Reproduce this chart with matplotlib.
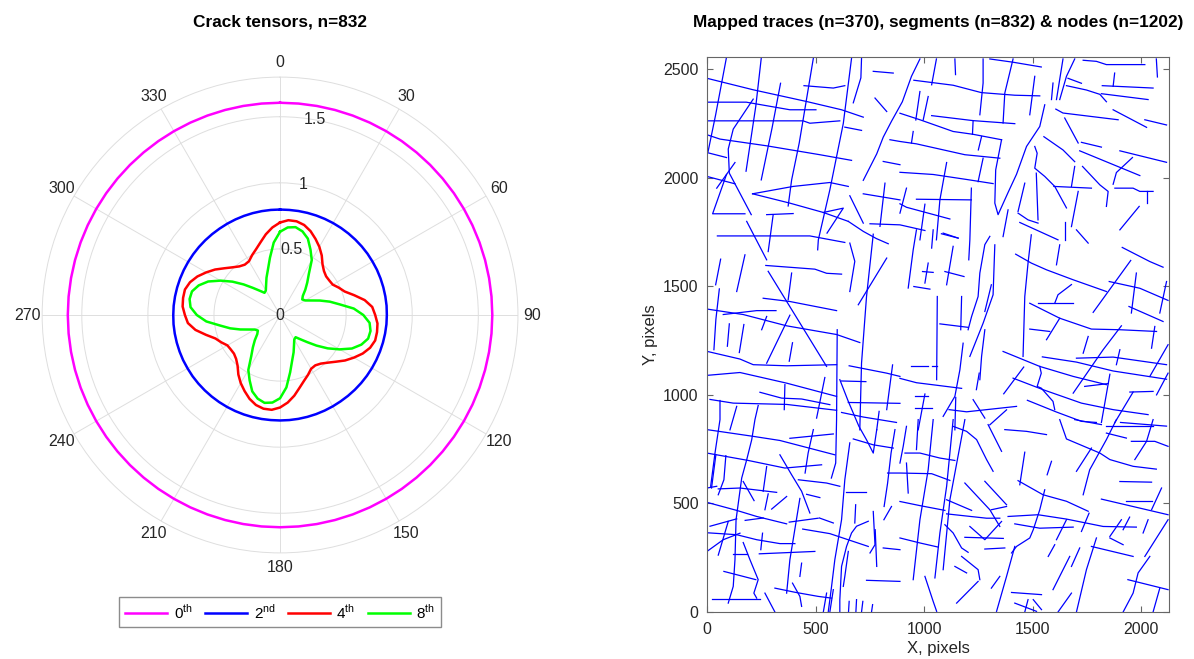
import matplotlib.pyplot as plt
import numpy as np

# --- CONFIGURATION ---
FONT = ['Liberation Sans', 'DejaVu Sans']
plt.rcParams['font.family'] = FONT
plt.rcParams['mathtext.fontset'] = 'custom'
plt.rcParams['mathtext.rm'] = 'Liberation Sans'
plt.rcParams['font.size'] = 11.5
TXT = '#262626'

# --- 1. CRACK TENSOR DATA (radius every 5 deg, 0..175; tensors are centrosymmetric) ---
theta_half = np.arange(0, 180, 5)
r_0th = 1.606
r_2nd_half = [0.798, 0.798, 0.799, 0.800, 0.801, 0.802, 0.803, 0.804, 0.805,
              0.806, 0.807, 0.808, 0.808, 0.809, 0.809, 0.809, 0.809, 0.809,
              0.808, 0.808, 0.807, 0.806, 0.805, 0.804, 0.803, 0.802, 0.801,
              0.800, 0.799, 0.798, 0.798, 0.798, 0.798, 0.798, 0.798, 0.798]
r_4th_half = [0.700, 0.720, 0.720, 0.705, 0.675, 0.635, 0.595, 0.550, 0.500,
              0.470, 0.455, 0.455, 0.460, 0.490, 0.520, 0.580, 0.650, 0.700,
              0.720, 0.740, 0.745, 0.745, 0.725, 0.690, 0.645, 0.600, 0.550,
              0.510, 0.480, 0.465, 0.470, 0.500, 0.530, 0.570, 0.620, 0.665]
r_8th_half = [0.630, 0.665, 0.675, 0.655, 0.615, 0.545, 0.480, 0.380, 0.320,
              0.270, 0.225, 0.205, 0.220, 0.260, 0.320, 0.390, 0.460, 0.560,
              0.630, 0.680, 0.695, 0.690, 0.655, 0.600, 0.520, 0.440, 0.360,
              0.290, 0.240, 0.205, 0.215, 0.250, 0.300, 0.355, 0.440, 0.550]
tensor_labels = ['0$^{\\rm th}$', '2$^{\\rm nd}$', '4$^{\\rm th}$', '8$^{\\rm th}$']
tensor_colors = ['#ff00ff', '#0000ff', '#ff0000', '#00ff00']
r_ticks = [0, 0.5, 1, 1.5]
r_tick_labels = ['0', '0.5', '1', '1.5']

# --- 2. TRACE MAP DATA (polylines in pixel coordinates of the mapped image) ---
traces_top = [
    [(90, 2555), (40, 2290), (5, 2120)],
    [(250, 2550), (225, 2330), (180, 2030)],
    [(490, 2550), (425, 2160), (390, 1990), (374, 1870)],
    [(666, 2550), (628, 2250), (566, 1944), (513, 1714), (510, 1668)],
    [(712, 2550), (709, 2460), (674, 2345)],
    [(0, 2458), (213, 2405), (459, 2351), (620, 2313), (720, 2279)],
    [(0, 2348), (181, 2348), (382, 2313), (502, 2313)],
    [(0, 2262), (443, 2262), (474, 2251), (612, 2262)],
    [(635, 2233), (712, 2218)],
    [(0, 2198), (60, 2178), (275, 2147), (520, 2106), (666, 2080)],
    [(0, 2116), (90, 2093)],
    [(0, 2006), (129, 1972)],
    [(129, 2070), (45, 1952)],
    [(213, 2362), (121, 2224), (98, 2132), (103, 2021), (204, 1830)],
    [(90, 2015), (26, 1834), (175, 1834)],
    [(339, 2435), (300, 2230), (250, 1990)],
    [(447, 2424), (582, 2413), (635, 2424)],
    [(210, 1926), (397, 1960), (566, 1978), (651, 1960)],
    [(210, 1926), (382, 1883), (536, 1840), (651, 1799)],
    [(275, 1830), (397, 1835)],
    [(305, 1830), (282, 1660)],
    [(536, 1840), (628, 1860), (553, 1745)],
    [(658, 1917), (720, 1791)],
    [(651, 1799), (720, 1753), (780, 1720), (835, 1696)],
    [(48, 1732), (474, 1732), (635, 1702)],
    [(183, 1799), (275, 1622)],
    [(766, 2490), (858, 2482)],
    [(774, 2367), (828, 2305)],
    [(981, 2547), (942, 2467), (900, 2350), (850, 2260), (812, 2187), (782, 2110), (720, 1988)],
    [(720, 1926), (889, 1898)],
    [(843, 2175), (889, 2167), (965, 2156), (1188, 2106), (1349, 2090)],
    [(812, 2075), (889, 2060)],
    [(820, 1975), (797, 1776)],
    [(751, 1788), (889, 1783), (1004, 1757)],
    [(1057, 2547), (1035, 2428)],
    [(1019, 2374), (996, 2266)],
    [(981, 2397), (962, 2266)],
    [(1142, 2547), (1145, 2475)],
    [(1272, 2547), (1272, 2436), (1257, 2290)],
    [(1303, 2547), (1410, 2532), (1540, 2510)],
    [(1410, 2547), (1372, 2390), (1364, 2252)],
    [(953, 2449), (1134, 2426), (1264, 2392), (1418, 2380), (1533, 2377)],
    [(1510, 2467), (1487, 2290)],
    [(889, 2297), (981, 2267), (1134, 2213), (1226, 2200), (1357, 2175)],
    [(1035, 2286), (1226, 2263), (1418, 2249)],
    [(1226, 2263), (1223, 2200)],
    [(889, 2025), (1042, 2015), (1196, 1992), (1318, 1973)],
    [(950, 2213), (942, 2160)],
    [(1265, 2190), (1250, 2128)],
    [(1272, 2090), (1249, 1982)],
    [(1104, 2070), (1073, 1898), (1057, 1714)],
    [(965, 1901), (1218, 1898)],
    [(889, 1880), (919, 1864), (1119, 1810)],
    [(1004, 1878), (981, 1714)],
    [(919, 1952), (889, 1837)],
    [(1218, 1952), (1211, 1714), (1206, 1622)],
    [(1088, 1745), (1157, 1722)],
    [(1357, 2175), (1330, 2036), (1326, 1883), (1341, 1830), (1387, 1932),
     (1426, 2016), (1472, 2144), (1533, 2236), (1556, 2336)],
    [(1594, 2436), (1587, 2360)],
    [(1640, 2547), (1610, 2360)],
    [(1694, 2547), (1656, 2467), (1625, 2360)],
    [(1733, 2541), (1794, 2536), (1840, 2521), (2017, 2521)],
    [(2070, 2547), (2075, 2464)],
    [(1663, 2458), (1725, 2435)],
    [(1656, 2424), (1748, 2404), (1810, 2384), (1840, 2350)],
    [(1878, 2482), (1871, 2421)],
    [(1821, 2424), (2055, 2413)],
    [(1817, 2387), (2032, 2360)],
    [(1607, 2316), (1640, 2298), (1894, 2267)],
    [(1871, 2313), (2025, 2232)],
    [(2017, 2267), (2117, 2243)],
    [(1648, 2275), (1710, 2160)],
    [(1725, 2163), (1817, 2141)],
    [(1552, 2189), (1640, 2128), (1694, 2074)],
    [(1717, 2124), (1994, 2010)],
    [(1902, 2124), (2117, 2071)],
    [(1960, 2093), (1886, 2024), (1871, 1970)],
    [(1510, 2144), (1521, 2113), (1510, 2044), (1556, 2006), (1602, 1960), (1656, 1861)],
    [(1730, 2052), (1810, 1967), (1848, 1937), (1840, 1868)],
    [(1694, 2052), (1679, 1960)],
    [(1598, 1960), (1771, 1952)],
    [(1879, 1952), (1963, 1952), (1994, 1937), (2055, 1937)],
    [(2025, 1937), (2025, 1883)],
    [(1710, 1937), (1679, 1775)],
    [(1517, 2021), (1525, 1806)],
    [(1464, 1975), (1433, 1845)],
    [(1433, 1837), (1479, 1806), (1525, 1791)],
    [(1441, 1794), (1617, 1714)],
    [(1648, 1794), (1648, 1714)],
    [(1991, 1868), (1902, 1760)],
    [(1387, 1852), (1364, 1729)],
]

traces_mid = [
    [(658, 1699), (681, 1615), (658, 1476)],
    [(766, 1740), (735, 1453), (712, 1146), (704, 839)],
    [(828, 1630), (697, 1415)],
    [(271, 1596), (497, 1579), (551, 1560), (620, 1556)],
    [(63, 1625), (40, 1507)],
    [(175, 1645), (137, 1476)],
    [(57, 1488), (41, 1347), (32, 1208)],
    [(390, 1561), (374, 1438)],
    [(282, 1569), (551, 1131)],
    [(259, 1445), (382, 1430), (597, 1388)],
    [(75, 1370), (229, 1388), (318, 1388)],
    [(275, 1361), (252, 1300)],
    [(382, 1367), (275, 1146)],
    [(394, 1240), (379, 1155)],
    [(2, 1395), (167, 1370), (367, 1318), (597, 1278), (704, 1241)],
    [(103, 1327), (94, 1224)],
    [(170, 1324), (149, 1195)],
    [(2, 1200), (152, 1165), (213, 1139), (367, 1134), (597, 1139)],
    [(2, 1090), (152, 1103), (367, 1054), (597, 993)],
    [(244, 1012), (344, 985), (436, 981), (566, 955)],
    [(359, 1047), (356, 932)],
    [(14, 979), (121, 962), (367, 956), (597, 929)],
    [(60, 974), (60, 886), (37, 732), (17, 579)],
    [(137, 947), (106, 839)],
    [(236, 951), (221, 886), (206, 793), (183, 701), (160, 617), (134, 425),
     (129, 241), (121, 118), (98, 41)],
    [(543, 1080), (505, 893)],
    [(600, 1300), (597, 886), (593, 686), (573, 617)],
    [(612, 1070), (651, 970), (674, 916), (700, 855), (735, 793), (766, 732), (782, 840)],
    [(655, 1134), (828, 1100), (889, 1085)],
    [(620, 1064), (732, 1061)],
    [(651, 965), (889, 961)],
    [(620, 919), (720, 898), (873, 873)],
    [(855, 1138), (828, 932)],
    [(793, 924), (782, 839)],
    [(965, 1760), (950, 1668), (927, 1492)],
    [(1042, 1760), (1035, 1676)],
    [(1080, 1742), (1157, 1722)],
    [(1134, 1684), (1104, 1507)],
    [(1096, 1568), (1184, 1545)],
    [(993, 1568), (1042, 1564)],
    [(1019, 1607), (1004, 1515)],
    [(953, 1499), (1027, 1487)],
    [(1303, 1730), (1280, 1692), (1257, 1561), (1249, 1453), (1219, 1361), (1203, 1300)],
    [(1326, 1691), (1318, 1461), (1272, 1330), (1211, 1177)],
    [(1310, 1507), (1280, 1384)],
    [(1173, 1453), (1169, 1300)],
    [(1073, 1327), (1203, 1311)],
    [(1061, 1453), (1058, 1070)],
    [(1280, 1300), (1265, 1177), (1257, 1070)],
    [(1180, 1238), (1165, 1115), (1142, 993), (1088, 901)],
    [(1254, 1100), (1241, 1024)],
    [(889, 1076), (965, 1056), (1173, 1030)],
    [(938, 1134), (1019, 1134)],
    [(1035, 1134), (1061, 1134)],
    [(958, 995), (1019, 995)],
    [(958, 938), (1035, 938)],
    [(1004, 1004), (973, 839)],
    [(1115, 932), (1196, 922), (1426, 947)],
    [(1146, 988), (1142, 839)],
    [(1226, 978), (1280, 893)],
    [(1380, 931), (1303, 862)],
    [(1494, 1737), (1479, 1607), (1464, 1453), (1456, 1177)],
    [(1702, 1760), (1756, 1699)],
    [(1625, 1691), (1610, 1599)],
    [(1422, 1648), (1494, 1607), (1564, 1576), (1687, 1530), (1840, 1476)],
    [(1913, 1679), (2040, 1614), (2101, 1588)],
    [(1952, 1619), (1779, 1380)],
    [(1978, 1561), (1955, 1377)],
    [(1853, 1522), (1994, 1491), (2124, 1435)],
    [(2117, 1522), (2086, 1377)],
    [(1944, 1407), (2101, 1338)],
    [(1679, 1508), (1617, 1461), (1602, 1422)],
    [(1525, 1422), (1687, 1422)],
    [(1487, 1422), (1625, 1353), (1771, 1303), (1902, 1300), (2071, 1292)],
    [(1487, 1303), (1579, 1292)],
    [(1625, 1353), (1564, 1254)],
    [(1756, 1269), (1733, 1192)],
    [(1909, 1318), (1825, 1208), (1687, 1008)],
    [(2063, 1315), (2048, 1215)],
    [(1364, 1200), (1533, 1131), (1687, 1085), (1840, 1047)],
    [(1410, 1077), (1548, 1024), (1725, 962), (1871, 932), (2032, 909)],
    [(1545, 1175), (1702, 1151), (1871, 1110), (2117, 1072)],
    [(1702, 1169), (1871, 1174), (2117, 1139)],
    [(1902, 1208), (1886, 1139)],
    [(2124, 1231), (2040, 1085)],
    [(2124, 1100), (2071, 1000)],
    [(1740, 1039), (1848, 1052)],
    [(1856, 1095), (1817, 873)],
    [(1963, 1013), (1879, 873)],
    [(1948, 1013), (2055, 1016)],
    [(1533, 1131), (1540, 1100), (1521, 1039), (1540, 1031), (1594, 970), (1602, 932)],
    [(1459, 1128), (1367, 1005)],
    [(1476, 975), (1610, 921), (1725, 878), (1794, 873)],
    [(1905, 873), (2117, 856)],
]

traces_bottom = [
    [(0, 840), (213, 809), (336, 790), (589, 724)],
    [(382, 800), (582, 820)],
    [(490, 840), (466, 732), (452, 640)],
    [(0, 732), (190, 698), (359, 663), (528, 678)],
    [(87, 720), (78, 609), (52, 540)],
    [(41, 724), (21, 571)],
    [(275, 670), (259, 556)],
    [(336, 724), (390, 632), (436, 556), (474, 456)],
    [(421, 609), (551, 594), (612, 579)],
    [(640, 552), (733, 552)],
    [(658, 779), (635, 609), (620, 425), (589, 241), (574, 118), (559, 3)],
    [(674, 797), (766, 770), (858, 755)],
    [(866, 840), (848, 732), (832, 593), (816, 486)],
    [(832, 640), (889, 640), (1035, 637), (1119, 606)],
    [(0, 571), (45, 579)],
    [(52, 567), (152, 571), (321, 551)],
    [(167, 601), (217, 513)],
    [(367, 532), (298, 474)],
    [(282, 544), (267, 471)],
    [(0, 505), (137, 468), (229, 440), (367, 406)],
    [(14, 395), (137, 429)],
    [(0, 365), (137, 356), (229, 333), (336, 315), (405, 315)],
    [(0, 279), (75, 333), (152, 363)],
    [(98, 417), (52, 262)],
    [(176, 422), (259, 433)],
    [(379, 414), (512, 432)],
    [(428, 523), (412, 425), (382, 241), (367, 87)],
    [(459, 542), (520, 527)],
    [(518, 433), (582, 410)],
    [(441, 382), (566, 361), (674, 325), (743, 302)],
    [(256, 363), (248, 287)],
    [(241, 268), (497, 279)],
    [(118, 268), (183, 268)],
    [(167, 320), (198, 241), (236, 149), (216, 87), (229, 64)],
    [(78, 187), (225, 149)],
    [(21, 61), (242, 61)],
    [(267, 87), (313, 0)],
    [(313, 110), (405, 91), (512, 72), (574, 64)],
    [(394, 133), (428, 72), (436, 26)],
    [(436, 225), (428, 164)],
    [(551, 87), (536, 0)],
    [(582, 103), (566, 0)],
    [(743, 418), (689, 395), (666, 364), (643, 302), (620, 210), (612, 56), (612, 0)],
    [(651, 279), (635, 164), (628, 118)],
    [(685, 494), (681, 410)],
    [(766, 463), (774, 310), (751, 272)],
    [(775, 379), (782, 210)],
    [(815, 425), (850, 486)],
    [(735, 146), (889, 141)],
    [(812, 295), (889, 287)],
    [(655, 49), (652, 0)],
    [(689, 57), (686, 0)],
    [(718, 49), (712, 0)],
    [(763, 34), (758, 0)],
    [(919, 855), (904, 763), (889, 686)],
    [(973, 886), (965, 748)],
    [(1042, 886), (1019, 655), (981, 425), (950, 149)],
    [(1134, 886), (1104, 579), (1073, 364), (1050, 157)],
    [(1188, 886), (1119, 517), (1088, 195)],
    [(912, 732), (981, 732), (1073, 709), (1142, 698)],
    [(919, 686), (927, 548)],
    [(889, 509), (981, 490), (1096, 468)],
    [(889, 341), (981, 318), (1065, 299)],
    [(1004, 164), (1042, 49), (1058, 3)],
    [(1134, 855), (1196, 832), (1242, 794), (1288, 702), (1318, 648)],
    [(1295, 863), (1357, 740)],
    [(1372, 840), (1472, 832), (1564, 817)],
    [(1625, 886), (1656, 797), (1810, 732), (1856, 702), (1963, 671), (2070, 658)],
    [(1694, 886), (1817, 863)],
    [(1840, 855), (1963, 855), (2055, 855)],
    [(1840, 824), (1932, 801)],
    [(1955, 786), (2063, 786), (2124, 763)],
    [(2055, 886), (2025, 786), (1971, 702)],
    [(1886, 886), (1840, 794), (1763, 655), (1733, 540)],
    [(1771, 755), (1702, 648)],
    [(1464, 736), (1441, 586)],
    [(1587, 694), (1567, 632)],
    [(1902, 601), (2048, 598)],
    [(1932, 509), (2048, 509)],
    [(1817, 520), (2124, 448)],
    [(2094, 571), (2048, 471)],
    [(1433, 605), (1548, 540), (1656, 510), (1756, 464)],
    [(1556, 563), (1533, 471), (1503, 379), (1487, 341), (1426, 302), (1403, 272)],
    [(1104, 517), (1219, 468)],
    [(1188, 594), (1303, 471), (1349, 394)],
    [(1280, 602), (1380, 494)],
    [(1310, 471), (1380, 486)],
    [(1104, 452), (1288, 432), (1349, 432)],
    [(1387, 440), (1525, 448), (1656, 428), (1825, 394), (1978, 391)],
    [(1418, 406), (1533, 386), (1687, 391)],
    [(1656, 425), (1610, 333)],
    [(1760, 455), (1725, 371)],
    [(1096, 402), (1134, 364), (1173, 295), (1203, 275)],
    [(1211, 394), (1280, 333), (1357, 417)],
    [(1188, 344), (1365, 339)],
    [(1280, 290), (1372, 295)],
    [(1173, 256), (1249, 195), (1257, 149)],
    [(1142, 210), (1196, 180)],
    [(1249, 141), (1150, 41)],
    [(1349, 164), (1310, 110)],
    [(1418, 302), (1380, 164), (1334, 3)],
    [(1602, 310), (1572, 256)],
    [(1717, 295), (1679, 210)],
    [(1671, 256), (1594, 103)],
    [(1794, 341), (1748, 195), (1702, 0)],
    [(1771, 302), (1963, 256)],
    [(1856, 341), (1917, 310)],
    [(1909, 425), (1856, 348)],
    [(1947, 437), (1917, 379)],
    [(2032, 425), (2009, 364)],
    [(2124, 425), (2017, 256)],
    [(2040, 256), (1986, 180), (1963, 87), (1917, 0)],
    [(1939, 149), (2124, 103)],
    [(2086, 110), (2055, 0)],
    [(1679, 87), (1617, 0)],
    [(1503, 57), (1541, 11)],
    [(1479, 57), (1464, 0)],
    [(1403, 90), (1541, 80)],
    [(1418, 41), (1518, 3)],
]

IMG_W = 2128
IMG_H = 2556

# --- 3. FIGURE ---
fig = plt.figure(figsize=(11.94, 6.59), dpi=100)

# left: polar rose of crack tensors (0 at top, clockwise)
ax1 = fig.add_axes([0.0352, 0.161, 0.3987, 0.722], projection='polar')
ax1.set_theta_zero_location('N')
ax1.set_theta_direction(-1)

theta = np.deg2rad(np.append(np.concatenate([theta_half, theta_half + 180]), 0))
radii = [np.full(len(theta_half), r_0th), r_2nd_half, r_4th_half, r_8th_half]
for r_half, col, lab in zip(radii, tensor_colors, tensor_labels):
    r = np.concatenate([r_half, r_half])
    r = np.append(r, r[0])
    ax1.plot(theta, r, color=col, lw=1.8, label=lab)

ax1.set_rlim(0, 1.8)
ax1.set_rticks(r_ticks)
ax1.set_yticklabels([])
for rv, rl in zip(r_ticks, r_tick_labels):
    ax1.text(np.deg2rad(10), rv, rl, ha='center', va='center', color=TXT)
ax1.set_thetagrids(range(0, 360, 30), labels=[str(a) for a in range(0, 360, 30)], color=TXT)
ax1.tick_params(axis='x', pad=0)
ax1.grid(color='#dedede', lw=0.7)
ax1.spines['polar'].set_color('#dedede')
ax1.spines['polar'].set_linewidth(0.7)

fig.text(0.2345, 1 - 22 / 659, 'Crack tensors, n=832', ha='center', va='center',
         weight='bold', fontsize=12.4)

fig.legend(loc='center', bbox_to_anchor=(0.2345, 1 - 612 / 659), ncol=4,
           fancybox=False, edgecolor='#8c8c8c', framealpha=1, fontsize=11,
           handlelength=2.8, columnspacing=0.8, handletextpad=0.4, borderpad=0.35)

# right: mapped traces
ax2 = fig.add_axes([0.5921, 0.0713, 0.3869, 0.8422])
for tr in traces_top + traces_mid + traces_bottom:
    xs, ys = zip(*tr)
    ax2.plot(xs, ys, color='#0000ff', lw=0.9)

ax2.set_xlim(0, IMG_W)
ax2.set_ylim(0, IMG_H)
ax2.set_xticks(range(0, 2001, 500))
ax2.set_yticks(range(0, 2501, 500))
ax2.tick_params(direction='in', top=True, right=True, length=4, color='#666666',
                labelcolor=TXT)
ax2.tick_params(axis='x', pad=7)
ax2.tick_params(axis='y', pad=6)
for sp in ax2.spines.values():
    sp.set_color('#666666')
    sp.set_linewidth(0.8)
ax2.set_xlabel('X, pixels', color=TXT, fontsize=12, labelpad=3)
ax2.set_ylabel('Y, pixels', color=TXT, fontsize=12, labelpad=4)

fig.text(0.7857, 1 - 22 / 659, 'Mapped traces (n=370), segments (n=832) & nodes (n=1202)',
         ha='center', va='center', weight='bold', fontsize=12.4)

plt.savefig('out.png', dpi=100)
